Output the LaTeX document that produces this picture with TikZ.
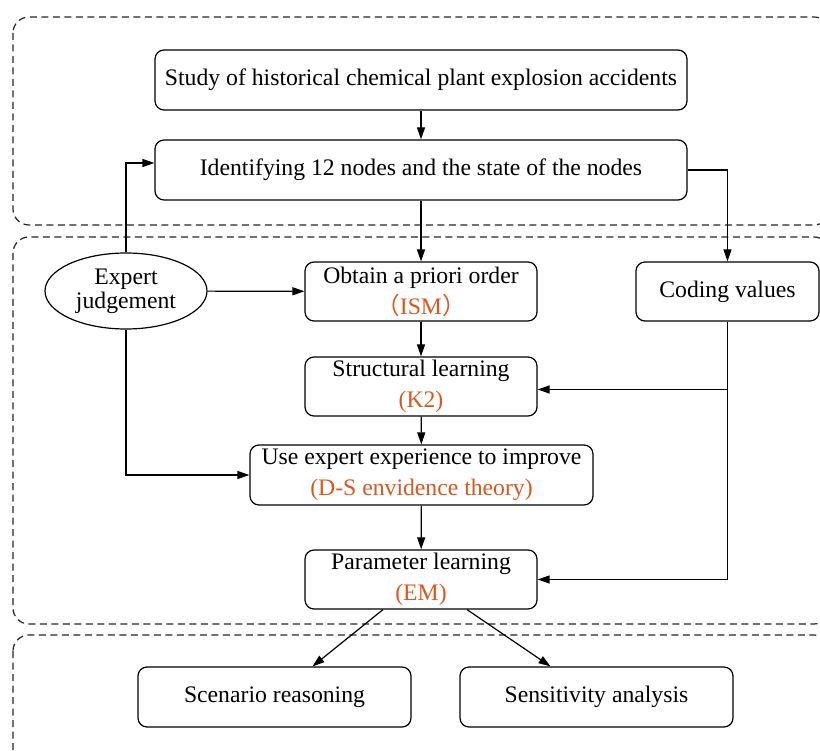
\documentclass[tikz,border=0pt]{standalone}
\usepackage{fontspec}
\setmainfont{Liberation Serif}
\newfontfamily\cjk{Noto Sans CJK SC}
\usetikzlibrary{arrows.meta, positioning, shapes.geometric}
\definecolor{methodOrange}{RGB}{218,88,30}
\definecolor{frameGray}{gray}{0.15}

\begin{document}
\begin{tikzpicture}[x=1pt, y=-1pt,
    stage/.style={draw, rounded corners=9pt, line width=1.2pt, align=center, inner sep=2pt,
        font=\fontsize{23.7}{31}\selectfont},
    phase/.style={draw=frameGray, line width=1.2pt, dash pattern=on 7pt off 4.5pt, rounded corners=16pt},
    arr/.style={-{Triangle[length=12pt, width=8pt]}, line width=1.2pt}]
    \clip (0,0) rectangle (820,751);

    % dashed phases
    \draw[phase] (13,17) rectangle (830,225);
    \draw[phase] (13,237) rectangle (830,624);
    \draw[phase] (13,635) rectangle (830,790);

    \node[stage, minimum width=532pt, minimum height=60pt] (study) at (421,80)
        {Study of historical chemical plant explosion accidents};
    \node[stage, minimum width=532pt, minimum height=60pt] (ident) at (421,170)
        {Identifying 12 nodes and the state of the nodes};
    \node[stage, minimum width=232pt, minimum height=59pt] (obtain) at (421,291.5)
        {Obtain a priori order\\ \textcolor{methodOrange}{{\cjk （}ISM{\cjk ）}}};
    \node[stage, minimum width=183pt, minimum height=59pt] (coding) at (727.5,291.5)
        {Coding values};
    \node[stage, minimum width=232pt, minimum height=59pt] (struct) at (421,386.5)
        {Structural learning\\ \textcolor{methodOrange}{(K2)}};
    \node[stage, minimum width=343pt, minimum height=60pt] (improve) at (421.5,475)
        {Use expert experience to improve\\ \textcolor{methodOrange}{(D-S envidence theory)}};
    \node[stage, minimum width=232pt, minimum height=59pt] (param) at (421,579.5)
        {Parameter learning\\ \textcolor{methodOrange}{(EM)}};
    \node[stage, minimum width=273pt, minimum height=60pt] (scen) at (274.5,697)
        {Scenario reasoning};
    \node[stage, minimum width=273pt, minimum height=60pt] (sens) at (596.5,697)
        {Sensitivity analysis};
    \node[draw, ellipse, line width=1.2pt, minimum width=162pt, minimum height=76pt, inner sep=0pt,
        align=center, font=\fontsize{23.7}{24}\selectfont] (expert) at (126,291)
        {Expert\\ judgement};

    % main chain
    \foreach \a/\b in {study/ident, ident/obtain, obtain/struct, struct/improve, improve/param}
        \draw[arr] (\a) -- (\b);

    \draw[arr] (ident.east) -| (coding.north);
    \draw[arr] (expert.north) |- ([yshift=7pt]ident.west);
    \draw[arr] (expert) -- (obtain);
    \draw[arr] (expert.south) |- (improve.west);
    \draw[arr] (coding.south) |- (param.east);
    \coordinate (tap) at (coding.south |- struct.east);
    \draw[arr] ([yshift=-3pt]tap) -- ([yshift=-3pt]struct.east);

    \draw[arr] ([xshift=-38pt]param.south) -- ([xshift=38pt]scen.north);
    \draw[arr] ([xshift=46pt]param.south) -- ([xshift=-46pt]sens.north);
\end{tikzpicture}
\end{document}
